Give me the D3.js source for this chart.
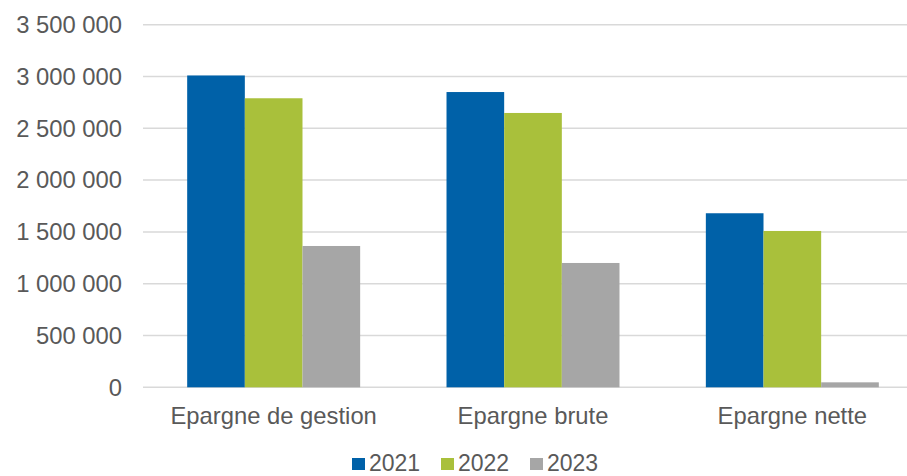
<!DOCTYPE html>
<html>
<head>
<meta charset="utf-8">
<script src="https://cdn.jsdelivr.net/npm/d3@7"></script>
<style>
  body { margin: 0; background: #fff; }
  svg { display: block; font-family: "Liberation Sans", Arial, sans-serif; }
</style>
</head>
<body>
<script>
// Data
var categories = ["Epargne de gestion", "Epargne brute", "Epargne nette"];
var years = ["2021", "2022", "2023"];
var values2021 = [3010000, 2850000, 1680000];
var values2022 = [2790000, 2648000, 1509000];
var values2023 = [1364000, 1200000, 48000];
var yTicks = [0, 500000, 1000000, 1500000, 2000000, 2500000, 3000000, 3500000];
var colors = ["#0061A8", "#A9C03B", "#A6A6A6"];

var series = [values2021, values2022, values2023];

var width = 907, height = 476;

// Plot area (right side runs past the picture edge like the original)
var plotLeft = 144, plotRight = 922, plotTop = 24.7, plotBottom = 387.3;

var svg = d3.select("body").append("svg")
    .attr("width", width)
    .attr("height", height);

var x0 = d3.scaleBand()
    .domain(categories)
    .range([plotLeft, plotRight]);

var groupW = x0.bandwidth() * 0.667;
var x1 = d3.scaleBand()
    .domain(years)
    .range([(x0.bandwidth() - groupW) / 2, (x0.bandwidth() + groupW) / 2]);

var y = d3.scaleLinear()
    .domain([0, 3500000])
    .range([plotBottom, plotTop]);

var fmt = function(v) { return d3.format(",")(v).replace(/,/g, " "); };

// gridlines
svg.append("g")
  .selectAll("line")
  .data(yTicks)
  .enter().append("line")
    .attr("x1", plotLeft - 1)
    .attr("x2", width)
    .attr("y1", function(d) { return y(d); })
    .attr("y2", function(d) { return y(d); })
    .attr("stroke", "#D9D9D9")
    .attr("stroke-width", 1.5);

// y tick labels
svg.append("g")
  .selectAll("text")
  .data(yTicks)
  .enter().append("text")
    .attr("x", 122)
    .attr("y", function(d) { return y(d); })
    .attr("dy", "0.35em")
    .attr("text-anchor", "end")
    .attr("fill", "#595959")
    .style("font-size", "23.8px")
    .text(fmt);

// bars
var groups = svg.append("g")
  .selectAll("g")
  .data(categories)
  .enter().append("g")
    .attr("transform", function(d) { return "translate(" + x0(d) + ",0)"; });

groups.selectAll("rect")
  .data(function(d, i) {
    return years.map(function(yr, j) { return {year: yr, value: series[j][i], idx: j}; });
  })
  .enter().append("rect")
    .attr("x", function(d) { return x1(d.year); })
    .attr("width", x1.bandwidth())
    .attr("y", function(d) { return y(d.value); })
    .attr("height", function(d) { return plotBottom - y(d.value); })
    .attr("fill", function(d) { return colors[d.idx]; });

// category labels
svg.append("g")
  .selectAll("text")
  .data(categories)
  .enter().append("text")
    .attr("x", function(d) { return x0(d) + x0.bandwidth() / 2; })
    .attr("y", 424)
    .attr("text-anchor", "middle")
    .attr("fill", "#595959")
    .style("font-size", "23.8px")
    .text(function(d) { return d; });

// legend
var legendX = [352, 441, 530];
var legend = svg.append("g")
  .selectAll("g")
  .data(years)
  .enter().append("g")
    .attr("transform", function(d, i) { return "translate(" + legendX[i] + ",0)"; });

legend.append("rect")
    .attr("x", 0)
    .attr("y", 458)
    .attr("width", 13)
    .attr("height", 12)
    .attr("fill", function(d, i) { return colors[i]; });

legend.append("text")
    .attr("x", 17)
    .attr("y", 471)
    .attr("fill", "#595959")
    .style("font-size", "23px")
    .text(function(d) { return d; });
</script>
</body>
</html>
